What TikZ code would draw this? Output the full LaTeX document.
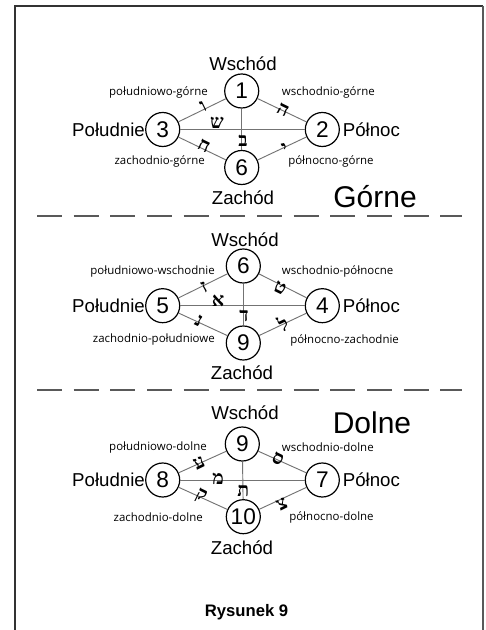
\documentclass[tikz,border=0pt]{standalone}
\usepackage{fontspec}
\setmainfont{Liberation Sans}
\newfontfamily\labfont{Open Sans}
\newfontfamily\hebfont[Script=Hebrew]{Liberation Serif}
\TeXXeTstate=1
\newcommand\hl[1]{{\hebfont\bfseries\beginR #1\endR}}
\begin{document}
\begin{tikzpicture}[x=0.75pt,y=-0.75pt,
  num/.style={circle,draw=black,line width=0.9pt,minimum size=25.5pt,inner sep=0pt,fill=white,font=\fontsize{17}{17}\selectfont},
  conn/.style={draw=black!55,line width=0.7pt},
  dir/.style={font=\fontsize{14}{14}\selectfont,inner sep=0pt},
  small/.style={font=\labfont\fontsize{8.6}{9}\selectfont,inner sep=0pt},
  big/.style={font=\fontsize{22.5}{22.5}\selectfont,inner sep=0pt},
  heb/.style={font=\fontsize{14.5}{14.5}\selectfont,inner sep=0pt},
  sep/.style={draw=black!65,line width=1pt,dash pattern=on 18.75pt off 8.75pt}]
\useasboundingbox (0,0) rectangle (485,630);
% frame
\draw[black!80,line width=0.9pt] (15,630) -- (15,6) -- (483,6);
\draw[black!65,line width=1.6pt] (483,6) -- (483,630);
% separators
\coordinate (s1a) at (37,216); \coordinate (s1b) at (462,216);
\coordinate (s2a) at (37,390); \coordinate (s2b) at (462,390);
\draw[sep] (s1a) -- (s1b);
\draw[sep] (s2a) -- (s2b);

% ===== Górne =====
\node[num] (a1) at (241.7,91) {1};
\node[num] (a3) at (162.7,129.5) {3};
\node[num] (a2) at (322.3,129.5) {2};
\node[num] (a6) at (241.7,167.5) {6};
\draw[conn] (a3) -- (a1);
\draw[conn] (a1) -- (a2);
\draw[conn] (a3) -- (a2);
\draw[conn] (a1) -- (a6);
\draw[conn] (a3) -- (a6);
\draw[conn] (a6) -- (a2);
\node[dir] (aw) at (243,64) {Wschód};
\node[dir] (az) at (243,198) {Zachód};
\node[dir,anchor=east] (ap) at (a3.west) {Południe};
\node[dir,anchor=west] (an) at ([xshift=2pt]a2.east) {Północ};
\node[big] (ag) at (375,197) {Górne};
\node[small,anchor=east] (al1) at (208,92) {południowo-górne};
\node[small,anchor=west] (al2) at (281.7,92) {wschodnio-górne};
\node[small,anchor=east] (al3) at (205,161) {zachodnio-górne};
\node[small,anchor=west] (al4) at (288,161) {północno-górne};
\node[heb,rotate=26] (ah1) at (203,106) {\hl{ו}};
\node[heb,rotate=-26] (ah2) at (283,110) {\hl{ה}};
\node[heb] (ah3) at (217,123) {\hl{ש}};
\node[heb] (ah4) at (243,141) {\hl{ב}};
\node[heb,rotate=-26] (ah5) at (204,146) {\hl{ח}};
\node[heb,rotate=26] (ah6) at (285,148) {\hl{י}};

% ===== middle =====
\node[num] (b6) at (243.3,266) {6};
\node[num] (b5) at (162.7,305.7) {5};
\node[num] (b4) at (322.3,305.7) {4};
\node[num] (b9) at (243.3,343) {9};
\draw[conn] (b5) -- (b6);
\draw[conn] (b6) -- (b4);
\draw[conn] (b5) -- (b4);
\draw[conn] (b6) -- (b9);
\draw[conn] (b5) -- (b9);
\draw[conn] (b9) -- (b4);
\node[dir] (bw) at (245,240) {Wschód};
\node[dir] (bz) at (242,373) {Zachód};
\node[dir,anchor=east] (bp) at (b5.west) {Południe};
\node[dir,anchor=west] (bn) at ([xshift=2pt]b4.east) {Północ};
\node[small,anchor=east] (bl1) at (215,271.7) {południowo-wschodnie};
\node[small,anchor=west] (bl2) at (281.7,271) {wschodnio-północne};
\node[small,anchor=east] (bl3) at (215,340) {zachodnio-południowe};
\node[small,anchor=west] (bl4) at (290,340) {północno-zachodnie};
\node[heb,rotate=26] (bh1) at (204,287) {\hl{ז}};
\node[heb,rotate=-26] (bh2) at (280,288) {\hl{ט}};
\node[heb] (bh3) at (218,301) {\hl{א}};
\node[heb] (bh4) at (244,316) {\hl{ד}};
\node[heb,rotate=-26] (bh5) at (199,321) {\hl{נ}};
\node[heb,rotate=26] (bh6) at (283,324) {\hl{ל}};

% ===== Dolne =====
\node[num] (c9) at (242.3,444) {9};
\node[num] (c8) at (162.7,480) {8};
\node[num] (c7) at (322.3,480) {7};
\node[num] (c10) at (243.3,516.7) {10};
\draw[conn] (c8) -- (c9);
\draw[conn] (c9) -- (c7);
\draw[conn] (c8) -- (c7);
\draw[conn] (c9) -- (c10);
\draw[conn] (c8) -- (c10);
\draw[conn] (c10) -- (c7);
\node[dir] (cw) at (245,413) {Wschód};
\node[dir] (cz) at (242,548) {Zachód};
\node[dir,anchor=east] (cp) at (c8.west) {Południe};
\node[dir,anchor=west] (cn) at ([xshift=2pt]c7.east) {Północ};
\node[big] (cd) at (372,423) {Dolne};
\node[small,anchor=east] (cl1) at (207,448) {południowo-dolne};
\node[small,anchor=west] (cl2) at (281.7,447) {wschodnio-dolne};
\node[small,anchor=east] (cl3) at (203,517) {zachodnio-dolne};
\node[small,anchor=west] (cl4) at (289,517) {północno-dolne};
\node[heb,rotate=26] (ch1) at (199,463) {\hl{ע}};
\node[heb,rotate=-26] (ch2) at (278,459) {\hl{ס}};
\node[heb] (ch3) at (218,479) {\hl{מ}};
\node[heb] (ch4) at (243.3,491) {\hl{ת}};
\node[heb,rotate=-26] (ch5) at (201,496) {\hl{ק}};
\node[heb,rotate=26] (ch6) at (282,504) {\hl{צ}};

\node[font=\bfseries\fontsize{12.5}{12.5}\selectfont,inner sep=0pt] (cap) at (246.5,612) {Rysunek 9};
\end{tikzpicture}
\end{document}
